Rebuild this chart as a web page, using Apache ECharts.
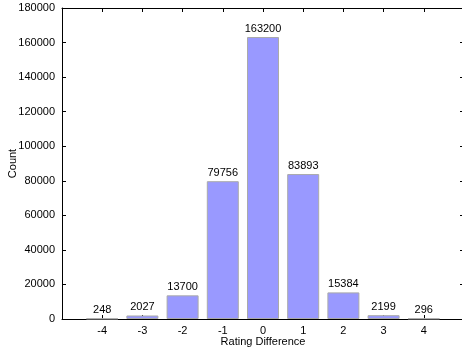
<!DOCTYPE html>
<html>
<head>
<meta charset="utf-8">
<script src="https://cdn.jsdelivr.net/npm/echarts@6/dist/echarts.min.js"></script>
<style>
  html, body { margin: 0; padding: 0; background: #fff; }
  #chart { width: 462px; height: 349px; }
</style>
</head>
<body>
<div id="chart"></div>
<script>
var ratingDiff = [-4, -3, -2, -1, 0, 1, 2, 3, 4];
var counts = [248, 2027, 13700, 79756, 163200, 83893, 15384, 2199, 296];

var myChart = echarts.init(document.getElementById('chart'), null, { renderer: 'canvas' });

var font = 'Liberation Sans, Arial, sans-serif';
var axisLine = { show: true, onZero: false, lineStyle: { color: '#000', width: 1 } };
var tick = { show: true, inside: true, length: 4, lineStyle: { color: '#000' } };

var option = {
  animation: false,
  grid: { left: 62, top: 8, width: 402, height: 311, outerBoundsMode: 'none', containLabel: false },
  xAxis: [
    {
      type: 'value',
      min: -5,
      max: 5,
      interval: 1,
      name: 'Rating Difference',
      nameLocation: 'middle',
      nameGap: 17,
      nameMoveOverlap: false,
      nameTextStyle: { fontFamily: font, fontSize: 11, color: '#000' },
      axisLine: axisLine,
      axisTick: tick,
      splitLine: { show: false },
      axisLabel: {
        fontFamily: font, fontSize: 11, color: '#000', margin: 6,
        formatter: function (v) { return (v <= -5 || v >= 5) ? '' : String(v); }
      }
    },
    {
      type: 'value',
      position: 'top',
      min: -5,
      max: 5,
      interval: 1,
      axisLine: axisLine,
      axisTick: tick,
      splitLine: { show: false },
      axisLabel: { show: false }
    }
  ],
  yAxis: [
    {
      type: 'value',
      min: 0,
      max: 180000,
      interval: 20000,
      name: 'Count',
      nameLocation: 'middle',
      nameGap: 44,
      nameMoveOverlap: false,
      nameTextStyle: { fontFamily: font, fontSize: 11, color: '#000' },
      axisLine: axisLine,
      axisTick: tick,
      splitLine: { show: false },
      axisLabel: {
        fontFamily: font, fontSize: 11, color: '#000', margin: 7,
        formatter: function (v) { return String(v); }
      }
    },
    {
      type: 'value',
      position: 'right',
      min: 0,
      max: 180000,
      interval: 20000,
      axisLine: axisLine,
      axisTick: tick,
      splitLine: { show: false },
      axisLabel: { show: false }
    }
  ],
  series: [
    {
      type: 'bar',
      xAxisIndex: 0,
      yAxisIndex: 0,
      barWidth: 32,
      data: ratingDiff.map(function (d, i) { return [d, counts[i]]; }),
      itemStyle: { color: '#9999ff', borderColor: '#aaaaaa', borderWidth: 1 },
      label: {
        show: true,
        position: 'top',
        distance: 3,
        fontFamily: font,
        fontSize: 11,
        color: '#000',
        formatter: function (p) { return p.value[1]; }
      }
    }
  ]
};

myChart.setOption(option);
window.addEventListener('resize', myChart.resize);
</script>
</body>
</html>
